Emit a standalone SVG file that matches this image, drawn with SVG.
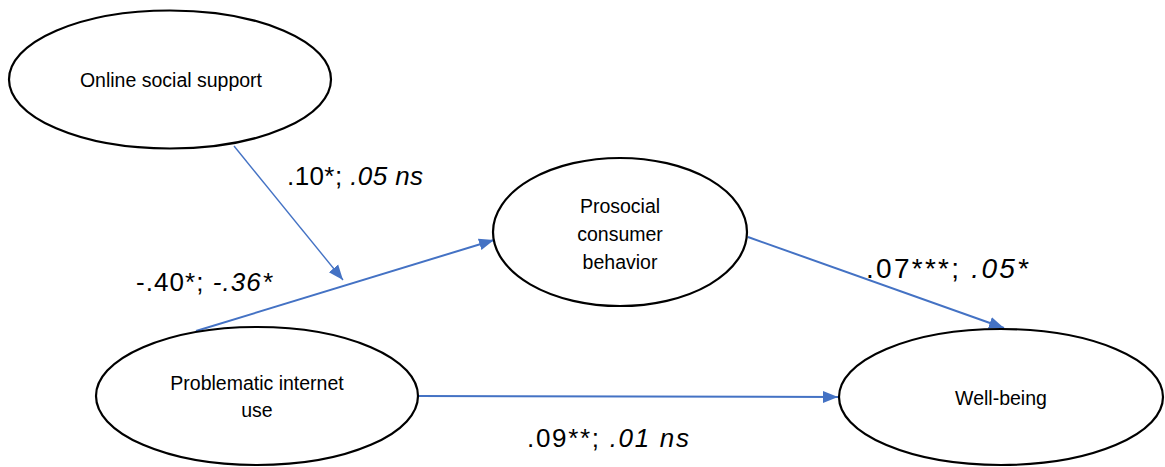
<svg xmlns="http://www.w3.org/2000/svg" width="1165" height="467" viewBox="0 0 1165 467">
<style>
.node{fill:#fff;stroke:#000;stroke-width:2.2}
.nt{font-family:"Liberation Sans",Arial,sans-serif;font-size:19.5px;fill:#000;text-anchor:middle}
.lbl{font-family:"Liberation Sans",Arial,sans-serif;font-size:26px;fill:#000}
.it{font-style:italic}
.edge{fill:none;stroke:#4472C4}
</style>
<defs>
<marker id="ah" markerUnits="userSpaceOnUse" markerWidth="16" markerHeight="14" refX="15" refY="6" orient="auto" viewBox="0 0 16 12">
<path d="M0,0 L15,6 L0,12 Z" fill="#4472C4"/>
</marker>
</defs>
<g id="connectors">
<line class="edge" x1="234" y1="146" x2="343" y2="280" stroke-width="1.4" marker-end="url(#ah)"/>
<line class="edge" x1="196" y1="331" x2="494" y2="240" stroke-width="2" marker-end="url(#ah)"/>
<line class="edge" x1="748" y1="237" x2="1004" y2="328" stroke-width="2" marker-end="url(#ah)"/>
<line class="edge" x1="418" y1="396" x2="838" y2="397" stroke-width="2" marker-end="url(#ah)"/>
</g>
<g id="node-online">
<ellipse class="node" cx="170" cy="79.5" rx="161" ry="69"/>
<text class="nt" x="171" y="87">Online social support</text>
</g>
<g id="node-prosocial">
<ellipse class="node" cx="620" cy="232" rx="127" ry="74"/>
<text class="nt" x="620" y="213">Prosocial</text>
<text class="nt" x="620" y="241">consumer</text>
<text class="nt" x="620" y="269">behavior</text>
</g>
<g id="node-problematic">
<ellipse class="node" cx="257" cy="396" rx="161" ry="69"/>
<text class="nt" x="257" y="390">Problematic internet</text>
<text class="nt" x="257" y="417">use</text>
</g>
<g id="node-wellbeing">
<ellipse class="node" cx="1001" cy="397" rx="162" ry="68"/>
<text class="nt" x="1001" y="405">Well-being</text>
</g>
<g id="labels">
<text class="lbl" x="287" y="185" textLength="136" lengthAdjust="spacing">.10*; <tspan class="it">.05 ns</tspan></text>
<text class="lbl" x="136" y="291" textLength="136" lengthAdjust="spacing">-.40*; <tspan class="it">-.36*</tspan></text>
<text class="lbl" x="866" y="278" textLength="162" lengthAdjust="spacing" style="font-size:28px">.07***; <tspan class="it">.05*</tspan></text>
<text class="lbl" x="527" y="447" textLength="162" lengthAdjust="spacing">.09**; <tspan class="it">.01 ns</tspan></text>
</g>
</svg>
